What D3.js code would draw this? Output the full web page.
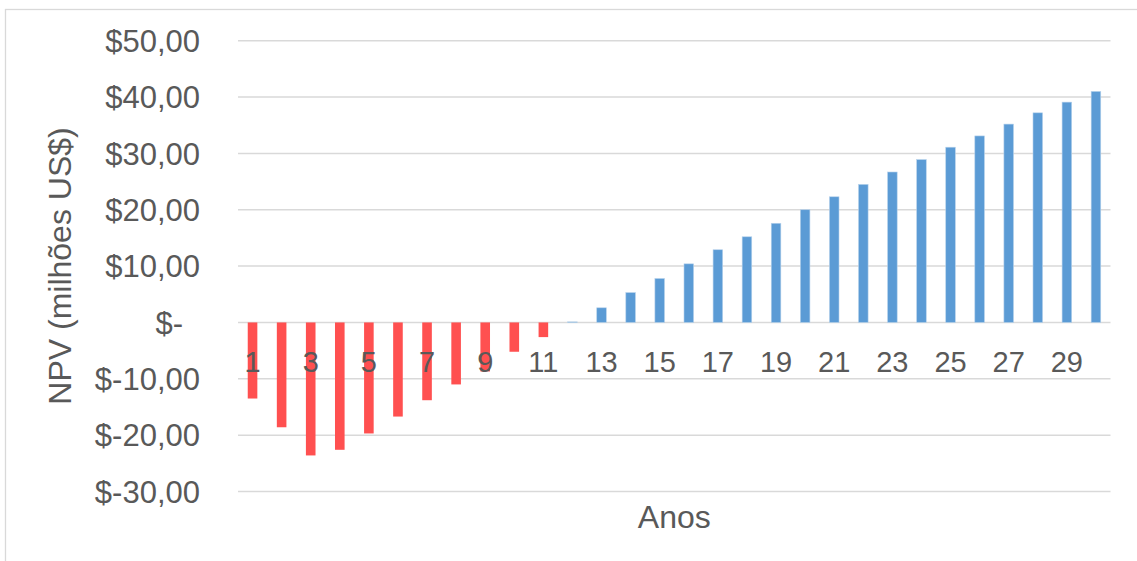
<!DOCTYPE html>
<html>
<head>
<meta charset="utf-8">
<script src="https://cdn.jsdelivr.net/npm/d3@7"></script>
<style>
  html, body { margin: 0; padding: 0; background: #ffffff; }
  svg { display: block; font-family: "Liberation Sans", Arial, sans-serif; }
</style>
</head>
<body>
<svg id="chart" width="1137" height="561"></svg>
<script>
// Years of the project and cumulative NPV (US$ millions) at each year
const years = d3.range(1, 31);
const npv = [
  -13.5, -18.6, -23.6, -22.6, -19.7, -16.7, -13.8, -11.0, -8.7, -5.2,
  -2.6, 0.1, 2.6, 5.3, 7.8, 10.4, 12.9, 15.2, 17.6, 20.0,
  22.3, 24.5, 26.7, 28.9, 31.1, 33.1, 35.2, 37.2, 39.1, 41.0
];
const yTicks = [-30, -20, -10, 0, 10, 20, 30, 40, 50];
const xTickLabels = years.filter(y => y % 2 === 1);

const axisTitleX = "Anos";
const axisTitleY = "NPV (milhões US$)";

const negColor = "#ff5050";
const posColor = "#5b9bd5";
const gridColor = "#d9d9d9";
const textColor = "#595959";

const svg = d3.select("#chart");

// Outer chart frame
svg.append("rect")
  .attr("x", 5.5).attr("y", 9.5)
  .attr("width", 1200).attr("height", 700)
  .attr("fill", "#ffffff")
  .attr("stroke", gridColor)
  .attr("stroke-width", 1.3);

const plot = { left: 238, right: 1110.5, top: 40.7, bottom: 491.5 };

const x = d3.scaleBand()
  .domain(years)
  .range([plot.left, plot.right])
  .paddingInner(0.67)
  .paddingOuter(0.335);

const y = d3.scaleLinear()
  .domain([-30, 50])
  .range([plot.bottom, plot.top]);

// Horizontal gridlines
svg.append("g")
  .selectAll("line")
  .data(yTicks)
  .join("line")
  .attr("x1", plot.left).attr("x2", plot.right)
  .attr("y1", d => y(d)).attr("y2", d => y(d))
  .attr("stroke", gridColor)
  .attr("stroke-width", 1.5);

// Value axis labels (accounting style, plain hyphen for negatives)
const fmt = v => v === 0
  ? "$-"
  : "$" + (v < 0 ? "-" : "") + Math.abs(v).toFixed(2).replace(".", ",");
svg.append("g")
  .selectAll("text")
  .data(yTicks)
  .join("text")
  .attr("x", d => d === 0 ? 183 : 200)
  .attr("y", d => y(d))
  .attr("dy", "0.36em")
  .attr("text-anchor", "end")
  .attr("font-size", 31)
  .attr("fill", textColor)
  .text(fmt);

// Bars: red below zero, blue above
svg.append("g")
  .selectAll("rect")
  .data(years.map((yr, i) => ({ yr, v: npv[i] })))
  .join("rect")
  .attr("x", d => x(d.yr))
  .attr("width", x.bandwidth())
  .attr("y", d => y(Math.max(0, d.v)))
  .attr("height", d => Math.abs(y(d.v) - y(0)))
  .attr("fill", d => d.v < 0 ? negColor : posColor)
  .attr("stroke", d => d.v < 0 ? "none" : "#b7d2ec")
  .attr("stroke-width", 0.6);

// Category labels next to the zero line
svg.append("g")
  .selectAll("text")
  .data(xTickLabels)
  .join("text")
  .attr("x", d => x(d) + x.bandwidth() / 2)
  .attr("y", y(0) + 49.5)
  .attr("text-anchor", "middle")
  .attr("font-size", 29)
  .attr("fill", textColor)
  .text(d => d);

// Axis titles
svg.append("text")
  .attr("x", (plot.left + plot.right) / 2)
  .attr("y", 528)
  .attr("text-anchor", "middle")
  .attr("font-size", 32)
  .attr("fill", textColor)
  .text(axisTitleX);

svg.append("text")
  .attr("transform", "translate(71,266) rotate(-90)")
  .attr("text-anchor", "middle")
  .attr("font-size", 32)
  .attr("fill", textColor)
  .text(axisTitleY);
</script>
</body>
</html>
